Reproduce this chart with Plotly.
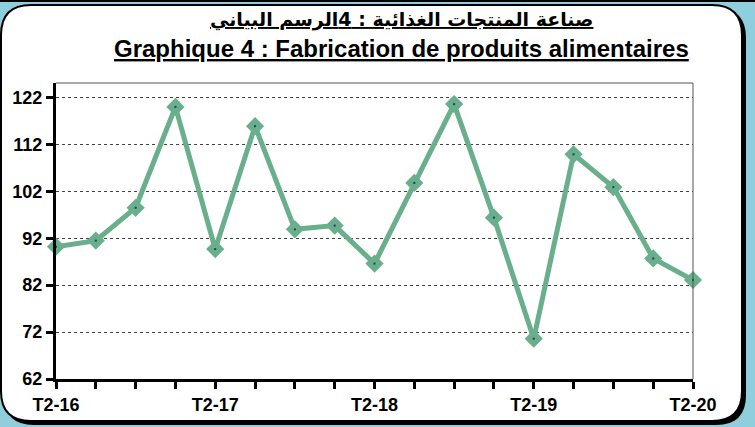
import plotly.graph_objects as go

quarters = ["T2-16", "T3-16", "T4-16", "T1-17", "T2-17", "T3-17", "T4-17", "T1-18",
            "T2-18", "T3-18", "T4-18", "T1-19", "T2-19", "T3-19", "T4-19", "T1-20", "T2-20"]
values = [90.2, 91.5, 98.5, 120.0, 89.7, 115.9, 93.9, 94.7, 86.6,
          103.8, 120.6, 96.4, 70.6, 109.9, 102.9, 87.7, 83.1]
y_ticks = [62, 72, 82, 92, 102, 112, 122]

W, H = 755, 427
L, R, T, B = 56, 62, 83, 48
PW, PH = W - L - R, H - T - B


def px(x, y):
    # pixel -> paper coordinates
    return (x - L) / PW, (H - B - y) / PH


def rounded_rect(x0, y0, x1, y1, r):
    pts = [
        ("M", [(x0 + r, y0)]),
        ("L", [(x1 - r, y0)]),
        ("Q", [(x1, y0), (x1, y0 + r)]),
        ("L", [(x1, y1 - r)]),
        ("Q", [(x1, y1), (x1 - r, y1)]),
        ("L", [(x0 + r, y1)]),
        ("Q", [(x0, y1), (x0, y1 - r)]),
        ("L", [(x0, y0 + r)]),
        ("Q", [(x0, y0), (x0 + r, y0)]),
    ]
    out = []
    for cmd, coords in pts:
        out.append(cmd + " ".join("%.5f,%.5f" % px(a, b) for a, b in coords))
    return " ".join(out) + " Z"


x_idx = list(range(len(quarters)))
tick_text = [q if i % 4 == 0 else "" for i, q in enumerate(quarters)]

fig = go.Figure()
fig.add_trace(go.Scatter(
    x=x_idx, y=values, mode="lines+markers",
    line=dict(color="#69AF8C", width=5),
    marker=dict(symbol="diamond", size=14, color="#69AF8C"),
    cliponaxis=False, hoverinfo="skip",
))
fig.add_trace(go.Scatter(
    x=x_idx, y=values, mode="markers",
    marker=dict(symbol="square", size=2, color="#1F3A7A"),
    cliponaxis=False, hoverinfo="skip",
))

# card background with shadow
fig.add_shape(type="path", xref="paper", yref="paper", layer="below",
              path=rounded_rect(4, 8, 746, 425, 30),
              fillcolor="black", line=dict(width=0))
fig.add_shape(type="path", xref="paper", yref="paper", layer="below",
              path=rounded_rect(1, 5, 742, 421, 30),
              fillcolor="white", line=dict(color="black", width=2))
# top strip line
fig.add_shape(type="line", xref="paper", yref="paper", layer="below",
              x0=px(0, 1)[0], x1=px(W, 1)[0], y0=px(0, 1)[1], y1=px(0, 1)[1],
              line=dict(color="black", width=2))

fig.add_annotation(text="<b>صناعة المنتجات الغذائية : 4الرسم البياني</b>",
                   xref="paper", yref="paper", x=px(401, 19)[0], y=px(401, 19)[1],
                   xanchor="center", yanchor="middle", showarrow=False,
                   font=dict(family="DejaVu Sans, Arial", size=19, color="black",
                             lineposition="under"))
fig.add_annotation(text="<b>Graphique 4 : Fabrication de produits alimentaires</b>",
                   xref="paper", yref="paper", x=px(401, 49)[0], y=px(401, 49)[1],
                   xanchor="center", yanchor="middle", showarrow=False,
                   font=dict(family="Arial, Liberation Sans", size=24, color="black",
                             lineposition="under"))

fig.update_xaxes(
    range=[0, 16], tickvals=x_idx, ticktext=tick_text,
    ticks="outside", ticklen=7, tickwidth=3, tickcolor="black",
    showline=True, linecolor="black", linewidth=3,
    showgrid=False, zeroline=False, mirror=False,
    tickfont=dict(family="Arial, Liberation Sans", size=18, color="black", weight="bold"),
)
fig.update_yaxes(
    range=[62, 125.1], tickvals=y_ticks,
    ticks="outside", ticklen=7, tickwidth=3, tickcolor="black",
    showline=True, linecolor="black", linewidth=3,
    showgrid=True, gridcolor="#444444", griddash="dot", gridwidth=1,
    zeroline=False,
    tickfont=dict(family="Arial, Liberation Sans", size=18, color="black", weight="bold"),
)
# thin frame on top and right
fig.add_shape(type="line", xref="paper", yref="paper", x0=0, x1=1, y0=1, y1=1,
              line=dict(color="#555555", width=1))
fig.add_shape(type="line", xref="paper", yref="paper", x0=1, x1=1, y0=0, y1=1,
              line=dict(color="#555555", width=1))

fig.update_layout(
    width=W, height=H,
    margin=dict(l=L, r=R, t=T, b=B),
    paper_bgcolor="#8FCEDC", plot_bgcolor="white",
    showlegend=False,
)
fig.write_html("out.html", config={"displayModeBar": False},
               post_script="document.body.style.margin='0';")
